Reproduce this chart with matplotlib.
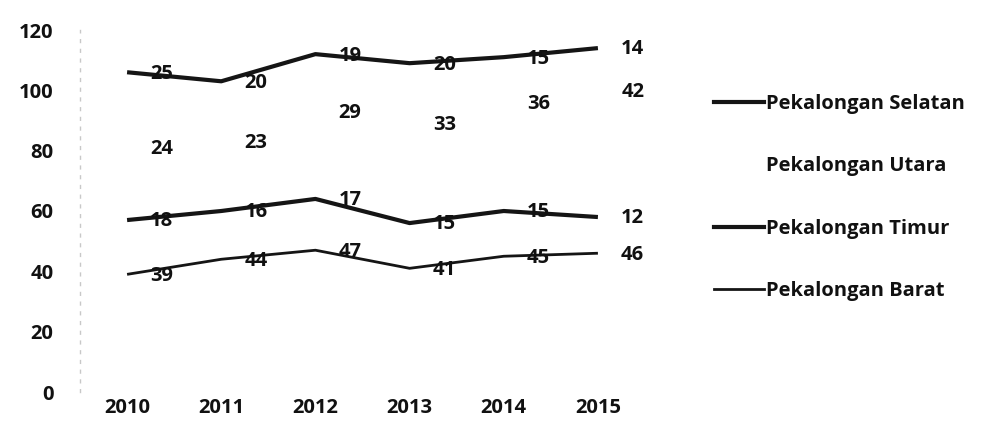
import matplotlib
matplotlib.use("Agg")
import matplotlib.pyplot as plt
from matplotlib.lines import Line2D
import numpy as np

years = ["2010", "2011", "2012", "2013", "2014", "2015"]
barat = [39, 44, 47, 41, 45, 46]
timur = [18, 16, 17, 15, 15, 12]
utara = [24, 23, 29, 33, 36, 42]
selatan = [25, 20, 19, 20, 15, 14]
series_names = ["Pekalongan Barat", "Pekalongan Timur", "Pekalongan Utara", "Pekalongan Selatan"]

plt.rcParams['font.family'] = ['Open Sans', 'DejaVu Sans']

fig = plt.figure(figsize=(9.84, 4.37), dpi=100)
ax = fig.add_axes([80/984, 45/437, 565/984, 362/437])

x = np.arange(len(years))
series = [barat, timur, utara, selatan]
widths = [2.0, 3.0, 0, 3.0]
colors = ['#151515', '#151515', 'none', '#151515']
cum = np.zeros(len(years))
handles = []
for vals, name, lw, c in zip(series, series_names, widths, colors):
    cum = cum + np.array(vals)
    if c != 'none':
        ax.plot(x, cum, color=c, lw=lw, solid_capstyle='butt')
    handles.append(Line2D([], [], color=c, lw=max(lw, 0.1)))
    for xi, yi, v in zip(x, cum, vals):
        ax.annotate(str(v), (xi, yi), xytext=(25, -1), textcoords='offset points',
                    ha='center', va='center', fontsize=14.5, fontweight='bold',
                    color='#111111')

ax.set_xlim(-0.5, 5.5)
ax.set_ylim(0, 120)
ax.set_xticks(x)
ax.set_xticklabels(years)
ax.set_yticks(np.arange(0, 121, 20))
for s in ['top', 'right', 'bottom']:
    ax.spines[s].set_visible(False)
ax.spines['left'].set_color('#c8c8c8')
ax.spines['left'].set_linestyle((0, (2, 5)))
ax.spines['left'].set_linewidth(1.0)
ax.tick_params(axis='both', length=0, labelsize=14.5, colors='#111111')
ax.tick_params(axis='y', pad=19)
ax.tick_params(axis='x', pad=4)
for lab in ax.get_xticklabels() + ax.get_yticklabels():
    lab.set_fontweight('bold')

leg_handles = handles[::-1]
leg_labels = series_names[::-1]
leg = fig.legend(leg_handles, leg_labels, loc='upper left',
                 bbox_to_anchor=(700/984, 1 - 80/437), frameon=False,
                 fontsize=14.5, handlelength=2.5, handletextpad=0.1,
                 labelspacing=2.1, borderpad=0.2)
for t in leg.get_texts():
    t.set_fontweight('bold')
    t.set_color('#111111')

fig.savefig("out.png", dpi=100)
